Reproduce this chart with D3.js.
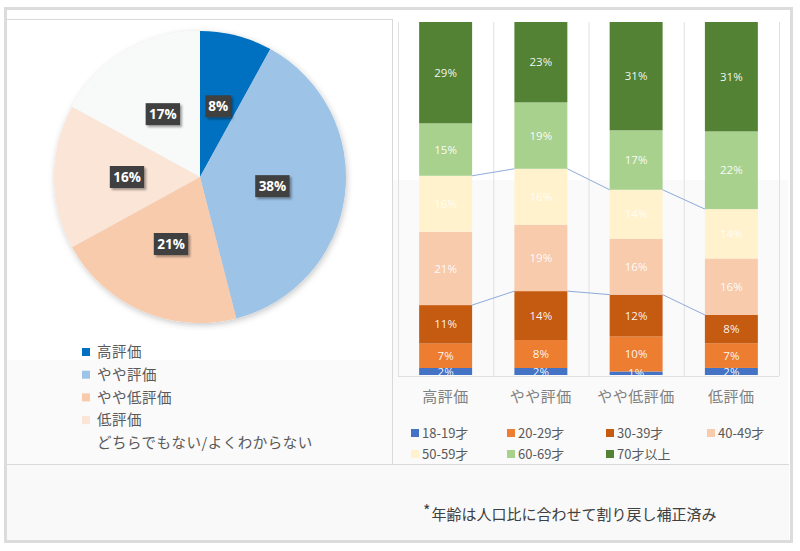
<!DOCTYPE html>
<html><head><meta charset="utf-8">
<script src="https://cdn.jsdelivr.net/npm/d3@7/dist/d3.min.js"></script>
<style>
html,body{margin:0;padding:0;background:#fff;}
svg{display:block;}
</style></head>
<body>
<svg id="c" width="800" height="551"></svg>
<script>
// ---- data ----
const pieLabels = ["高評価","やや評価","やや低評価","低評価","どちらでもない/よくわからない"];
const pieValues = [8,38,21,16,17];
const pieColors = ["#0070C0","#9DC3E6","#F8CBAD","#FBE5D6","#F8F9F9"];

const barCategories = ["高評価","やや評価","やや低評価","低評価"];
const ageGroups = ["18-19才","20-29才","30-39才","40-49才","50-59才","60-69才","70才以上"];
const age1819 = [2,2,1,2];
const age2029 = [7,8,10,7];
const age3039 = [11,14,12,8];
const age4049 = [21,19,16,16];
const age5059 = [16,16,14,14];
const age6069 = [15,19,17,22];
const age70up = [29,23,31,31];
const ageColors = ["#4472C4","#ED7D31","#C55A11","#F8CBAD","#FFF2CC","#A9D18E","#548235"];
const footnote = "年齢は人口比に合わせて割り戻し補正済み";

const JP = "'Noto Sans CJK JP','Noto Sans',sans-serif";
const svg = d3.select("#c");
const defs = svg.append("defs");
const sh = defs.append("filter").attr("id","pieShadow").attr("x","-20%").attr("y","-20%").attr("width","140%").attr("height","140%");
sh.append("feDropShadow").attr("dx",1).attr("dy",2).attr("stdDeviation",3).attr("flood-color","#000").attr("flood-opacity",0.22);
const sh2 = defs.append("filter").attr("id","boxShadow").attr("x","-30%").attr("y","-30%").attr("width","160%").attr("height","160%");
sh2.append("feDropShadow").attr("dx",2).attr("dy",2).attr("stdDeviation",1).attr("flood-color","#000").attr("flood-opacity",0.35);

// ---- frame & backgrounds ----
svg.append("rect").attr("x",7).attr("y",360).attr("width",385).attr("height",104).attr("fill","#f9faf9");
svg.append("rect").attr("x",393).attr("y",180).attr("width",395).attr("height",284).attr("fill","#f9faf9");
svg.append("rect").attr("x",6).attr("y",464).attr("width",783).attr("height",77).attr("fill","#f8f9f8");
svg.append("rect").attr("x",5.5).attr("y",8.5).attr("width",786).attr("height",533).attr("fill","none").attr("stroke","#dcdcdc").attr("stroke-width",3);
svg.append("line").attr("x1",7).attr("x2",392).attr("y1",19.5).attr("y2",19.5).attr("stroke","#d9d9d9");
svg.append("line").attr("x1",392.5).attr("x2",392.5).attr("y1",19).attr("y2",464).attr("stroke","#d9d9d9");
svg.append("line").attr("x1",7).attr("x2",789).attr("y1",464.5).attr("y2",464.5).attr("stroke","#d9d9d9");

// ---- pie ----
const cx = 200, cy = 177, R = 146;
const pie = d3.pie().sort(null).value(d => d)(pieValues);
const arc = d3.arc().innerRadius(0).outerRadius(R);
const gPie = svg.append("g").attr("transform",`translate(${cx},${cy})`);
gPie.append("g").attr("filter","url(#pieShadow)").selectAll("path").data(pie).join("path")
  .attr("d",arc).attr("fill",(d,i)=>pieColors[i]);
const lbl = gPie.selectAll("g.lbl").data(pie).join("g").attr("class","lbl")
  .attr("transform",d=>{const c=arc.centroid(d);return `translate(${c[0]},${c[1]})`;});
lbl.each(function(d){
  const g = d3.select(this);
  const t = d.value+"%";
  const w = t.length*8.8+8;
  g.append("rect").attr("x",-w/2).attr("y",-11).attr("width",w).attr("height",22)
    .attr("fill","#404040").attr("filter","url(#boxShadow)");
  g.append("text").attr("text-anchor","middle").attr("dy","0.36em")
    .attr("font-family","'Open Sans','Noto Sans',sans-serif").attr("font-weight","bold")
    .attr("font-size",13.5).attr("fill","#fff").text(t);
});

// pie legend
const pl = svg.append("g");
pieLabels.forEach((l,i)=>{
  const y = 352 + i*22.7;
  if(i<4) pl.append("rect").attr("x",82).attr("y",y-4).attr("width",8).attr("height",8).attr("fill",pieColors[i]);
  pl.append("text").attr("x",97).attr("y",y).attr("dy","0.36em").attr("font-family",JP)
    .attr("font-size",14.5).attr("letter-spacing",0.5).attr("fill","#595959").text(l);
});

// ---- stacked bars ----
const series = [age1819,age2029,age3039,age4049,age5059,age6069,age70up];
const rows = barCategories.map((c,j)=>{const o={cat:c};ageGroups.forEach((a,k)=>o[a]=series[k][j]);return o;});
const stack = d3.stack().keys(ageGroups).offset(d3.stackOffsetExpand)(rows);
const x = d3.scaleBand().domain(barCategories).range([398,779]).paddingInner(0.444).paddingOuter(0.222);
const y = d3.scaleLinear().domain([0,1]).range([375,22]);

// vertical gridlines
const gridX = d3.range(barCategories.length+1).map(i=>x.range()[0]+i*x.step());
svg.append("g").selectAll("line").data(gridX).join("line")
  .attr("x1",d=>d+0.5).attr("x2",d=>d+0.5).attr("y1",22).attr("y2",376)
  .attr("stroke","#e0e0e0");
svg.append("line").attr("x1",398).attr("x2",779).attr("y1",376.5).attr("y2",376.5).attr("stroke","#e0e0e0");

svg.append("clipPath").attr("id","plotClip").append("rect").attr("x",398).attr("y",20).attr("width",381).attr("height",356);

const gBars = svg.append("g");
stack.forEach((s,k)=>{
  gBars.append("g").selectAll("rect").data(s).join("rect")
    .attr("x",d=>x(d.data.cat)).attr("width",x.bandwidth())
    .attr("y",d=>y(d[1])).attr("height",d=>y(d[0])-y(d[1]))
    .attr("fill",ageColors[k]);
});
// series lines (30-39 top and 50-59 top)
[2,4].forEach(k=>{
  const s = stack[k];
  for(let j=0;j<s.length-1;j++){
    svg.append("line")
      .attr("x1",x(barCategories[j])+x.bandwidth()).attr("y1",y(s[j][1]))
      .attr("x2",x(barCategories[j+1])).attr("y2",y(s[j+1][1]))
      .attr("stroke","#8FAADC").attr("stroke-width",1);
  }
});
// bar labels
const gL = svg.append("g").attr("clip-path","url(#plotClip)");
stack.forEach((s,k)=>{
  gL.append("g").selectAll("text").data(s).join("text")
    .attr("x",d=>x(d.data.cat)+x.bandwidth()/2)
    .attr("y",d=>(y(d[0])+y(d[1]))/2).attr("dy","0.36em")
    .attr("text-anchor","middle").attr("font-family","'Open Sans','Noto Sans',sans-serif")
    .attr("font-size",11.5).attr("fill","#fff").attr("fill-opacity",k===4?0.85:0.95)
    .text(d=>d.data[ageGroups[k]]+"%");
});
// category labels
svg.append("g").selectAll("text").data(barCategories).join("text")
  .attr("x",d=>x(d)+x.bandwidth()/2).attr("y",397).attr("dy","0.36em")
  .attr("text-anchor","middle").attr("font-family",JP).attr("font-size",15)
  .attr("letter-spacing",0.5).attr("fill","#808080").text(d=>d);

// bar legend
const legCols = [411,507,606,707];
ageGroups.forEach((a,k)=>{
  const col = k%4, row = Math.floor(k/4);
  const lx = legCols[col], ly = 433 + row*21;
  svg.append("rect").attr("x",lx).attr("y",ly-4).attr("width",8).attr("height",8).attr("fill",ageColors[k]);
  svg.append("text").attr("x",lx+11).attr("y",ly).attr("dy","0.36em").attr("font-family",JP)
    .attr("font-size",13).attr("fill","#595959").text(a);
});

// footnote
const fn = svg.append("text").attr("x",423).attr("y",520).attr("font-family",JP).attr("fill","#404040");
fn.append("tspan").attr("font-size",16).attr("dy",-3).text("*");
fn.append("tspan").attr("font-size",15).attr("dy",3).attr("dx",1).text(footnote);
</script>
</body></html>
